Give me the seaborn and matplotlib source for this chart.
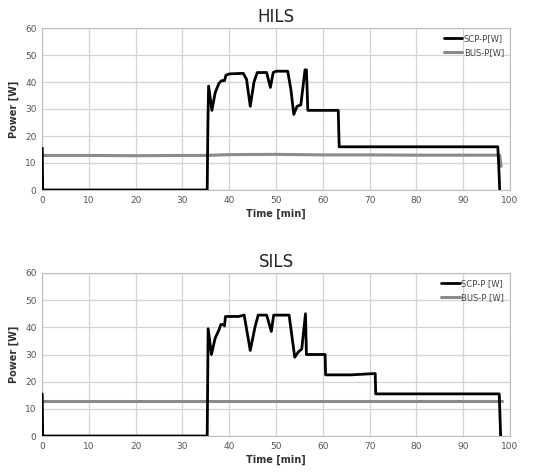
import matplotlib
matplotlib.use("Agg")
import matplotlib.pyplot as plt
import seaborn as sns
import pandas as pd

# HILS data
hils_scp_t = [0, 0.05, 0.15, 35.3, 35.45, 35.6, 36.3, 37.0, 37.8, 38.4, 39.0, 39.3, 40.0, 43.0, 43.7, 44.5, 45.3, 46.0, 48.0, 48.8, 49.4, 50.0, 52.5, 53.2, 53.8, 54.5, 55.3, 56.2, 56.5, 56.8, 60.0, 63.3, 63.5, 70.0, 80.0, 90.0, 97.4, 97.6, 97.8]
hils_scp_p = [15.5, 15.5, 0, 0, 25, 38.5, 29.5, 36.0, 39.5, 40.5, 40.5, 42.5, 43.0, 43.2, 41.0, 31.0, 40.0, 43.5, 43.5, 38.0, 43.5, 44.0, 44.0, 37.0, 28.0, 31.0, 31.5, 44.5, 44.5, 29.5, 29.5, 29.5, 16.0, 16.0, 16.0, 16.0, 16.0, 9.0, 0]
hils_bus_t = [0, 10, 20, 30, 35, 40, 50, 60, 70, 80, 90, 97.8, 98.0, 98.1]
hils_bus_p = [12.8, 12.8, 12.7, 12.8, 12.8, 13.1, 13.2, 13.0, 13.0, 12.9, 12.9, 12.9, 10.0, 8.8]

# SILS data
sils_scp_t = [0, 0.05, 0.15, 35.3, 35.4, 35.5, 36.2, 37.0, 37.8, 38.2, 38.8, 39.0, 39.2, 42.0, 43.2, 44.5, 45.5, 46.2, 48.0, 49.0, 49.5, 52.8, 54.0, 54.8, 55.5, 56.3, 56.5, 60.5, 60.6, 66.0, 71.2, 71.3, 97.7, 98.0]
sils_scp_p = [15.5, 15.5, 0, 0, 20, 39.5, 30.0, 36.0, 39.0, 41.0, 41.0, 40.5, 44.0, 44.0, 44.5, 31.5, 40.0, 44.5, 44.5, 38.5, 44.5, 44.5, 29.0, 31.0, 32.0, 45.0, 30.0, 30.0, 22.5, 22.5, 23.0, 15.5, 15.5, 0]
sils_bus_t = [0, 98.2]
sils_bus_p = [12.8, 12.8]

titles = ["HILS", "SILS"]
x_ticks = [0, 10, 20, 30, 40, 50, 60, 70, 80, 90, 100]
y_ticks = [0, 10, 20, 30, 40, 50, 60]

sns.set_style("white")
plt.rcParams['font.family'] = ['DejaVu Sans']

fig = plt.figure(figsize=(5.41, 4.72), dpi=100)
ax1 = fig.add_axes([42/541, 1-190/472, 468/541, 162/472])
ax2 = fig.add_axes([42/541, 1-436/472, 468/541, 163/472])

datasets = [
    (hils_scp_t, hils_scp_p, hils_bus_t, hils_bus_p, "SCP-P[W]", "BUS-P[W]"),
    (sils_scp_t, sils_scp_p, sils_bus_t, sils_bus_p, "SCP-P [W]", "BUS-P [W]"),
]

for ax, title, (st, sp, bt, bp, l1, l2) in zip([ax1, ax2], titles, datasets):
    df_s = pd.DataFrame({"t": st, "p": sp})
    df_b = pd.DataFrame({"t": bt, "p": bp})
    sns.lineplot(data=df_s, x="t", y="p", ax=ax, color="black", lw=2.0, label=l1, sort=False, zorder=3)
    sns.lineplot(data=df_b, x="t", y="p", ax=ax, color="#8a8a8a", lw=2.2, label=l2, sort=False, zorder=2)
    ax.set_xlim(0, 100)
    ax.set_ylim(0, 60)
    ax.set_xticks(x_ticks)
    ax.set_yticks(y_ticks)
    ax.grid(True, color="#d4d4d4", lw=0.9)
    ax.set_axisbelow(True)
    for s in ax.spines.values():
        s.set_color("#bdbdbd")
        s.set_linewidth(0.8)
    ax.tick_params(axis="both", labelsize=6.5, colors="#555555", length=0, pad=4)
    ax.set_xlabel("Time [min]", fontsize=7, fontweight="bold", color="#333333", labelpad=3)
    ax.set_ylabel("Power [W]", fontsize=7, fontweight="bold", color="#333333", labelpad=4)
    ax.set_title(title, fontsize=12, color="#222222", pad=4)
    leg = ax.legend(loc="upper right", frameon=False, fontsize=6, handlelength=2.2,
                    handletextpad=0.2, borderaxespad=0.3, labelspacing=0.6)
    for txt in leg.get_texts():
        txt.set_color("#444444")

fig.savefig("out.png", dpi=100)
